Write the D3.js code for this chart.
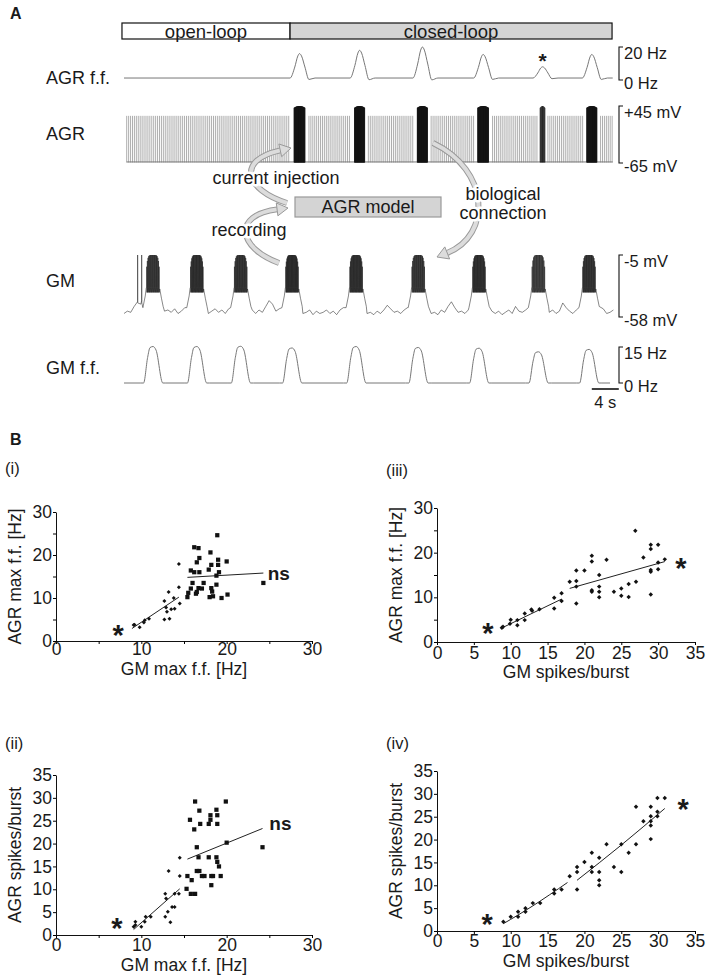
<!DOCTYPE html>
<html>
<head>
<meta charset="utf-8">
<script src="https://cdn.jsdelivr.net/npm/d3@7"></script>
<style>
  body { margin: 0; background: #fff; }
</style>
</head>
<body>
<script>
// ---------- panel A data (time in s) ----------
const phases = [["open-loop", -0.3, 24.6], ["closed-loop", 24.6, 72.3]];

const agrBurstT = [26.0, 34.9, 44.2, 53.2, 62.0, 69.3];
const agrBurstDur = [1.6, 1.5, 1.5, 1.6, 0.7, 1.5];
const agrBurstSpikes = [40, 38, 40, 40, 9, 38];
const agrFfHz = [16, 18, 20, 15.5, 8, 15.5];
const agrFfBase = 1.2;
const agrTonic = [[0.4, 24.6], [27.4, 33.6], [36.2, 43.0], [45.5, 52.0], [54.6, 61.3], [62.8, 68.2], [70.6, 72.4]];
const agrTonicRate = 3.5;

const gmBurstT = [4.3, 10.8, 17.3, 24.9, 34.4, 43.6, 52.6, 61.4, 68.9];
const gmBurstSpikes = [20, 22, 21, 23, 22, 20, 22, 18, 21];
const gmFfHz = [15.2, 15.2, 15.3, 14.6, 15.2, 14.8, 14.5, 13, 14];
const gmLoneSpikes = [2.0, 2.6];
// GM membrane potential between bursts, every 0.5 s (mV)
const gmRest = [
  -55, -53, -54, -49, -45, -47, -44, -46, -45, -44,
  -47, -50, -53, -52, -54, -51, -55, -53, -50, -54,
  -52, -51, -50, -49, -52, -55, -53, -51, -54, -52,
  -55, -51, -50, -49, -50, -51, -53, -54, -52, -55,
  -52, -54, -49, -44, -47, -53, -51, -50, -49, -50,
  -51, -52, -53, -55, -54, -52, -56, -53, -55, -54,
  -52, -55, -53, -56, -52, -50, -49, -50, -50, -51,
  -52, -53, -55, -54, -56, -53, -55, -52, -48, -51,
  -54, -53, -55, -52, -50, -49, -50, -50, -50, -51,
  -53, -55, -54, -56, -52, -54, -49, -45, -50, -54,
  -53, -55, -52, -50, -50, -50, -50, -51, -52, -53,
  -55, -53, -56, -54, -52, -55, -49, -53, -54, -52,
  -55, -53, -50, -50, -50, -51, -54, -52, -55, -53,
  -46, -50, -53, -55, -52, -50, -50, -50, -50, -51,
  -53, -54, -51, -55, -54, -52
];
const gmPlateau = -33, gmSpikePeak = -5;

// ---------- panel B data ----------
const i_small = [[9.1,3.7],[9.2,3.8],[9.8,3.2],[10.3,4.3],[10.4,4.8],[10.9,5.2],[12.7,9.3],[13.2,11.4],[12.7,5.0],
  [13.3,5.2],[13.0,6.8],[13.5,7.4],[13.9,7.5],[13.8,10.0],[14.4,12.5],[14.5,8.7],[14.4,17.9],[12.9,7.8]];
const i_square = [[15.4,10.2],[15.5,11.2],[15.8,12.2],[16.0,13.5],[15.8,16.4],[16.2,16.0],[16.2,21.8],[16.7,21.6],
  [16.5,18.3],[16.8,19.3],[16.8,16.0],[16.4,11.0],[16.5,11.4],[16.7,12.3],[17.1,12.2],[17.3,13.5],[17.9,16.6],
  [18.1,20.6],[18.2,17.7],[18.2,12.3],[18.3,11.5],[18.0,10.2],[18.4,10.4],[18.8,13.1],[18.9,24.6],[19.0,18.9],
  [19.0,17.7],[18.8,15.2],[19.1,16.0],[19.4,10.0],[20.0,18.5],[20.1,10.8],[24.3,13.5]];
const i_fits = [[[8.9,2.9],[14.4,10.2]], [[15.4,14.8],[24.3,15.8]]];

const ii_small = [[9.1,1.8],[9.3,2.2],[9.3,2.9],[10.0,1.8],[10.4,2.9],[10.5,4.0],[11.1,4.0],[12.8,9.0],[12.9,8.0],
  [13.1,5.1],[12.8,4.0],[13.4,2.8],[13.2,14.0],[13.6,6.1],[13.9,6.1],[13.9,9.0],[14.4,9.0],[14.5,12.9],[14.5,16.9]];
const ii_square = [[15.3,10.1],[15.4,12.9],[15.7,25.2],[15.9,12.0],[15.8,9.0],[16.3,9.0],[16.2,23.1],[16.3,29.2],
  [16.5,19.2],[16.7,17.0],[16.8,27.2],[16.9,24.3],[16.5,14.0],[16.8,14.0],[17.1,12.9],[17.4,12.9],[17.9,24.3],
  [18.1,26.2],[18.1,25.2],[17.9,17.0],[18.2,12.9],[18.4,12.9],[18.2,10.9],[18.8,17.0],[18.8,27.4],[18.9,26.2],
  [18.9,24.3],[18.9,16.0],[19.1,15.0],[19.3,12.9],[19.9,29.2],[20.0,20.2],[24.2,19.2]];
const ii_fits = [[[9.1,1.2],[14.5,10.1]], [[15.4,16.6],[24.2,23.3]]];

const iii_pts = [[8.8,3.2],[8.95,3.4],[9.9,4.1],[10.0,5.0],[10.9,4.9],[10.9,3.75],[11.9,4.9],[11.9,6.4],[12.8,7.3],
  [12.9,7.0],[13.9,7.35],[15.9,9.9],[15.9,7.5],[16.9,10.9],[16.9,9.2],[18.0,13.5],[18.9,13.65],[18.9,16.0],
  [18.9,12.4],[18.9,8.6],[20.0,16.0],[21.0,19.3],[21.0,18.0],[21.0,11.6],[21.0,11.25],[22.0,15.0],[22.0,12.4],
  [22.0,11.25],[22.0,10.0],[23.0,18.4],[24.0,11.25],[25.0,12.0],[25.0,10.35],[26.0,13.0],[26.0,10.05],[26.9,24.9],
  [27.0,13.5],[28.0,18.9],[29.0,21.75],[29.0,20.8],[29.0,16.1],[29.0,15.75],[29.0,10.65],[30.0,21.75],[30.0,17.8],
  [30.0,16.3],[30.9,18.5]];
const iii_fits = [[[8.8,3.15],[16.9,9.6]], [[18.0,12.0],[30.9,18.0]]];

const iv_pts = [[9.0,2.0],[10.0,3.1],[11.0,4.2],[11.0,3.1],[12.0,4.2],[12.0,5.0],[13.0,6.1],[14.0,6.1],[15.9,8.2],
  [15.9,9.1],[16.9,9.1],[18.0,12.0],[19.0,14.0],[19.0,12.9],[19.0,9.1],[20.0,15.1],[21.0,17.1],[21.0,14.0],
  [21.0,12.9],[22.0,16.0],[22.0,12.9],[22.0,11.1],[22.0,10.0],[23.0,19.0],[24.0,14.0],[25.0,19.0],[25.0,12.9],
  [26.0,17.1],[27.0,27.2],[27.0,19.0],[28.0,24.0],[29.0,27.2],[29.0,25.1],[29.0,24.0],[29.0,23.1],[29.0,20.1],
  [29.9,29.1],[29.9,26.1],[29.9,25.1],[30.9,29.1]];
const iv_fits = [[[9.0,1.6],[13.0,5.5],[17.7,10.6]], [[19.0,11.1],[25.0,18.8],[30.9,26.8]]];

// ---------- setup ----------
const FONT = '"Liberation Sans", Arial, Helvetica, sans-serif';
const INK = "#1a1a1a";
const svg = d3.select("body").append("svg")
  .attr("width", 709).attr("height", 975)
  .style("font-family", FONT);

function label(txt, x, y, opts = {}) {
  return svg.append("text").attr("x", x).attr("y", y)
    .attr("font-size", opts.size || 18)
    .attr("font-weight", opts.bold ? "bold" : null)
    .attr("text-anchor", opts.anchor || "start")
    .attr("dominant-baseline", "central")
    .attr("fill", INK)
    .text(txt);
}

// ---------- panel A ----------
const tX = d3.scaleLinear().domain([0, 72.5]).range([124, 613.4]);
const yAgrFf = d3.scaleLinear().domain([0, 20]).range([80, 47]);
const yAgr = d3.scaleLinear().domain([-65, 45]).range([163, 106]);
const yGm = d3.scaleLinear().domain([-58, -5]).range([317, 255]);
const yGmFf = d3.scaleLinear().domain([0, 15]).range([383, 347]);

label("A", 10, 13, { bold: true, size: 16 });

// loop phase bar
phases.forEach(([name, a, b], i) => {
  svg.append("rect").attr("x", tX(a)).attr("y", 23).attr("width", tX(b) - tX(a)).attr("height", 16)
    .attr("fill", i === 0 ? "#fff" : "#d4d4d4").attr("stroke", "#111").attr("stroke-width", 1.2);
  label(name, (tX(a) + tX(b)) / 2, 31, { anchor: "middle", size: 18.5 });
});

// AGR f.f.
const agrFfShape = [[-1.4, 0], [-0.7, 0.45], [-0.25, 0.9], [0, 1], [0.3, 0.9], [0.8, 0.45], [1.4, -0.06], [2.3, 0]];
const agrFfPts = [[0, agrFfBase]];
agrBurstT.forEach((tp, i) => agrFfShape.forEach(([dt, k]) =>
  agrFfPts.push([tp + dt, agrFfBase + (agrFfHz[i] - agrFfBase) * k])));
agrFfPts.push([72.4, agrFfBase]);
svg.append("path")
  .attr("d", d3.line().x(d => tX(d[0])).y(d => yAgrFf(d[1])).curve(d3.curveMonotoneX)(agrFfPts))
  .attr("fill", "none").attr("stroke", "#777").attr("stroke-width", 1);
label("*", tX(agrBurstT[4]), yAgrFf(agrFfHz[4]) - 6, { bold: true, size: 21, anchor: "middle" });

// AGR membrane: tonic spikes + bursts
const agrSpikes = [];
agrTonic.forEach(([a, b]) => {
  for (let t = a; t <= b; t += 1 / agrTonicRate) agrSpikes.push({ t, top: 26, burst: false });
});
agrBurstT.forEach((c, k) => {
  const n = agrBurstSpikes[k], d = agrBurstDur[k];
  for (let j = 0; j < n; j++) {
    const rel = j / (n - 1) - 0.5;
    agrSpikes.push({ t: c + rel * d, top: 45 - 14 * rel * rel, burst: true });
  }
});
svg.append("line").attr("x1", tX(0.4)).attr("x2", tX(72.4)).attr("y1", yAgr(-63)).attr("y2", yAgr(-63))
  .attr("stroke", "#555").attr("stroke-width", 0.8);
svg.append("g").selectAll("line").data(agrSpikes).join("line")
  .attr("x1", d => tX(d.t)).attr("x2", d => tX(d.t))
  .attr("y1", yAgr(-64)).attr("y2", d => yAgr(d.top))
  .attr("stroke", d => d.burst ? "#111" : "#777")
  .attr("stroke-width", d => d.burst ? 0.8 : 0.6);

// GM membrane
const win = 1.6;
const gmPts = [];
gmRest.forEach((v, i) => {
  const t = i * 0.5;
  if (!gmBurstT.some(c => Math.abs(t - c) < win)) gmPts.push([t, v]);
});
gmLoneSpikes.forEach(ts => gmPts.push([ts + 0.01, -44], [ts + 0.02, gmSpikePeak], [ts + 0.04, -46]));
gmBurstT.forEach((c, k) => {
  gmPts.push([c - 1.5, -50], [c - 1.15, -40], [c - 1.0, gmPlateau]);
  const n = gmBurstSpikes[k];
  for (let j = 0; j < n; j++) {
    const rel = j / (n - 1) - 0.5;
    const ts = c - 0.95 + j * (1.85 / (n - 1));
    const top = gmSpikePeak - 10 * Math.pow(2 * Math.abs(rel), 6);
    gmPts.push([ts, gmPlateau], [ts + 0.012, top], [ts + 0.035, gmPlateau - 4]);
  }
  gmPts.push([c + 1.0, gmPlateau - 1], [c + 1.25, -42], [c + 1.5, -49]);
});
gmPts.sort((a, b) => a[0] - b[0]);
svg.append("path").attr("d", d3.line().x(d => tX(d[0])).y(d => yGm(d[1]))(gmPts))
  .attr("fill", "none").attr("stroke", "#111").attr("stroke-width", 0.5);

// GM f.f.
const gmFfShape = [[-1.4, 0], [-0.8, 0.7], [-0.45, 0.97], [0, 1], [0.45, 0.9], [1.45, 0]];
const gmFfPts = [[0, 0]];
gmBurstT.forEach((tp, i) => {
  gmFfPts.push([tp - 1.9, 0]);
  gmFfShape.forEach(([dt, k]) => gmFfPts.push([tp + dt, gmFfHz[i] * k]));
  gmFfPts.push([tp + 1.9, 0]);
});
gmFfPts.push([72.0, 0]);
svg.append("path").attr("d", d3.line().x(d => tX(d[0])).y(d => yGmFf(d[1])).curve(d3.curveMonotoneX)(gmFfPts))
  .attr("fill", "none").attr("stroke", "#777").attr("stroke-width", 1);

// trace names
label("AGR f.f.", 46, 78);
label("AGR", 46, 134);
label("GM", 46, 281);
label("GM f.f.", 46, 368);

// scale brackets
function bracket(y1, y2, t1, t2) {
  const bx = 619;
  svg.append("path").attr("d", `M${bx + 4},${y1}H${bx}V${y2}H${bx + 4}`)
    .attr("fill", "none").attr("stroke", "#111").attr("stroke-width", 1.1);
  label(t1, bx + 5, y1 + 6, { size: 16.5 });
  label(t2, bx + 5, y2 + 3, { size: 16.5 });
}
bracket(yAgrFf(20), yAgrFf(0), "20 Hz", "0 Hz");
bracket(yAgr(45), yAgr(-65), "+45 mV", "-65 mV");
bracket(yGm(-5), yGm(-58), "-5 mV", "-58 mV");
bracket(yGmFf(15), yGmFf(0), "15 Hz", "0 Hz");

// 4 s time bar
svg.append("line").attr("x1", tX(69.3)).attr("x2", tX(73.3)).attr("y1", 389).attr("y2", 389)
  .attr("stroke", "#111").attr("stroke-width", 1.6);
label("4 s", tX(71.3), 402, { anchor: "middle", size: 16.5 });

// model box + arrows
function arrow(p) {
  const ang = Math.atan2(p[7] - p[5], p[6] - p[4]);
  const L = 11, Wd = 6.5;
  const bx = p[6] - L * Math.cos(ang), by = p[7] - L * Math.sin(ang);
  const pts = [[p[6], p[7]], [bx - Wd * Math.sin(ang), by + Wd * Math.cos(ang)], [bx + Wd * Math.sin(ang), by - Wd * Math.cos(ang)]];
  const g = svg.append("g");
  const body = `M${p[0]},${p[1]}C${p[2]},${p[3]} ${p[4]},${p[5]} ${bx},${by}`;
  g.append("path").attr("d", body).attr("fill", "none").attr("stroke", "#999").attr("stroke-width", 6);
  g.append("path").attr("d", body).attr("fill", "none").attr("stroke", "#dcdcdc").attr("stroke-width", 4);
  g.append("polygon").attr("points", pts.map(q => q.join(",")).join(" "))
    .attr("fill", "#dcdcdc").attr("stroke", "#999").attr("stroke-width", 1);
}
arrow([287, 203, 245, 190, 236, 160, 291, 148]);
arrow([279, 263, 238, 248, 232, 215, 288, 208]);
arrow([433, 143, 490, 170, 492, 235, 437, 257]);

svg.append("rect").attr("x", 295).attr("y", 197).attr("width", 146).attr("height", 20)
  .attr("fill", "#d4d4d4").attr("stroke", "#999").attr("stroke-width", 1.2);
label("AGR model", 368, 207, { anchor: "middle" });

function haloLabel(txt, x, y) {
  label(txt, x, y, { anchor: "middle" }).attr("stroke", "#fff").attr("stroke-width", 5)
    .attr("paint-order", "stroke").attr("stroke-linejoin", "round");
}
haloLabel("current injection", 276, 178);
haloLabel("recording", 249, 230);
haloLabel("biological", 503, 194);
haloLabel("connection", 503, 213);

// ---------- panel B ----------
label("B", 10, 439, { bold: true, size: 16 });

function scatter(c) {
  const x = d3.scaleLinear().domain([0, c.xMax]).range([c.left, c.right]);
  const y = d3.scaleLinear().domain([0, c.yMax]).range([c.bottom, c.top]);
  const g = svg.append("g");

  const ax = g.append("g").attr("transform", `translate(0,${c.bottom})`)
    .call(d3.axisBottom(x).tickValues(d3.range(0, c.xMax + 1, 5)).tickSize(3).tickSizeOuter(0)
      .tickPadding(c.xPad).tickFormat(d => d % c.xStep === 0 ? d : ""));
  const ay = g.append("g").attr("transform", `translate(${c.left},0)`)
    .call(d3.axisLeft(y).tickValues(d3.range(0, c.yMax + 1, 5)).tickSize(3).tickSizeOuter(0)
      .tickPadding(c.yPad).tickFormat(d => d % c.yStep === 0 ? d : ""));
  [ax, ay].forEach(a => {
    a.attr("font-family", FONT).attr("font-size", 17.5);
    a.selectAll("text").attr("fill", INK);
    a.select(".domain").attr("stroke", "#111");
  });

  // axis titles
  g.append("text").attr("x", (c.left + c.right) / 2).attr("y", c.bottom + c.titleDy)
    .attr("text-anchor", "middle").attr("dominant-baseline", "central")
    .attr("font-size", 17.5).attr("fill", INK).text(c.xTitle);
  g.append("text").attr("transform", `translate(${c.left - 41},${(c.top + c.bottom) / 2}) rotate(-90)`)
    .attr("text-anchor", "middle").attr("dominant-baseline", "central")
    .attr("font-size", 17.5).attr("fill", INK).text(c.yTitle);

  label(c.tag, c.left - 51, c.tagY, { size: 16.5 });

  // fits
  const ln = d3.line().x(d => x(d[0])).y(d => y(d[1])).curve(d3.curveNatural);
  g.selectAll(".fit").data(c.fits).join("path").attr("class", "fit")
    .attr("d", ln).attr("fill", "none").attr("stroke", "#222").attr("stroke-width", 1);

  // markers
  c.sets.forEach(s => {
    const sym = d3.symbol().type(d3.symbolSquare).size(s.size);
    g.append("g").selectAll("path").data(s.pts).join("path")
      .attr("d", sym)
      .attr("transform", d => `translate(${x(d[0])},${y(d[1])})${s.rot ? " rotate(45)" : ""}`)
      .attr("fill", "#111");
  });

  c.stars.forEach(([sx, sy]) => {
    g.append("text").attr("x", x(sx)).attr("y", y(sy) + 16).attr("text-anchor", "middle")
      .attr("font-size", 29).attr("font-weight", "bold").attr("fill", INK).text("*");
  });
  if (c.ns) {
    g.append("text").attr("x", x(c.ns[0])).attr("y", y(c.ns[1])).attr("dominant-baseline", "central")
      .attr("font-size", 19).attr("font-weight", "bold").attr("fill", INK).text("ns");
  }
}

scatter({
  tag: "(i)", tagY: 468, left: 56, right: 312, bottom: 641, top: 512, xMax: 30, yMax: 30,
  xStep: 10, yStep: 10, xPad: -1, yPad: 1, titleDy: 28,
  xTitle: "GM max f.f. [Hz]", yTitle: "AGR max f.f. [Hz]",
  sets: [{ pts: i_small, size: 8, rot: true }, { pts: i_square, size: 18, rot: false }],
  fits: i_fits, stars: [[7.27, 2.8]], ns: [24.8, 15.6]
});
scatter({
  tag: "(ii)", tagY: 743, left: 56, right: 312, bottom: 935, top: 775, xMax: 30, yMax: 35,
  xStep: 10, yStep: 5, xPad: 1, yPad: 1, titleDy: 30,
  xTitle: "GM max f.f. [Hz]", yTitle: "AGR spikes/burst",
  sets: [{ pts: ii_small, size: 8, rot: true }, { pts: ii_square, size: 18, rot: false }],
  fits: ii_fits, stars: [[7.15, 2.8]], ns: [25, 24.5]
});
scatter({
  tag: "(iii)", tagY: 470, left: 437, right: 695, bottom: 642, top: 508, xMax: 35, yMax: 30,
  xStep: 5, yStep: 10, xPad: 2, yPad: 1, titleDy: 30,
  xTitle: "GM spikes/burst", yTitle: "AGR max f.f. [Hz]",
  sets: [{ pts: iii_pts, size: 10, rot: true }],
  fits: iii_fits, stars: [[6.9, 3.4], [33.1, 17.9]], ns: null
});
scatter({
  tag: "(iv)", tagY: 743, left: 437, right: 695, bottom: 931, top: 771, xMax: 35, yMax: 35,
  xStep: 5, yStep: 5, xPad: 1, yPad: 1, titleDy: 30,
  xTitle: "GM spikes/burst", yTitle: "AGR spikes/burst",
  sets: [{ pts: iv_pts, size: 10, rot: true }],
  fits: iv_fits, stars: [[6.8, 2.8], [33.4, 28.0]], ns: null
});
</script>
</body>
</html>
